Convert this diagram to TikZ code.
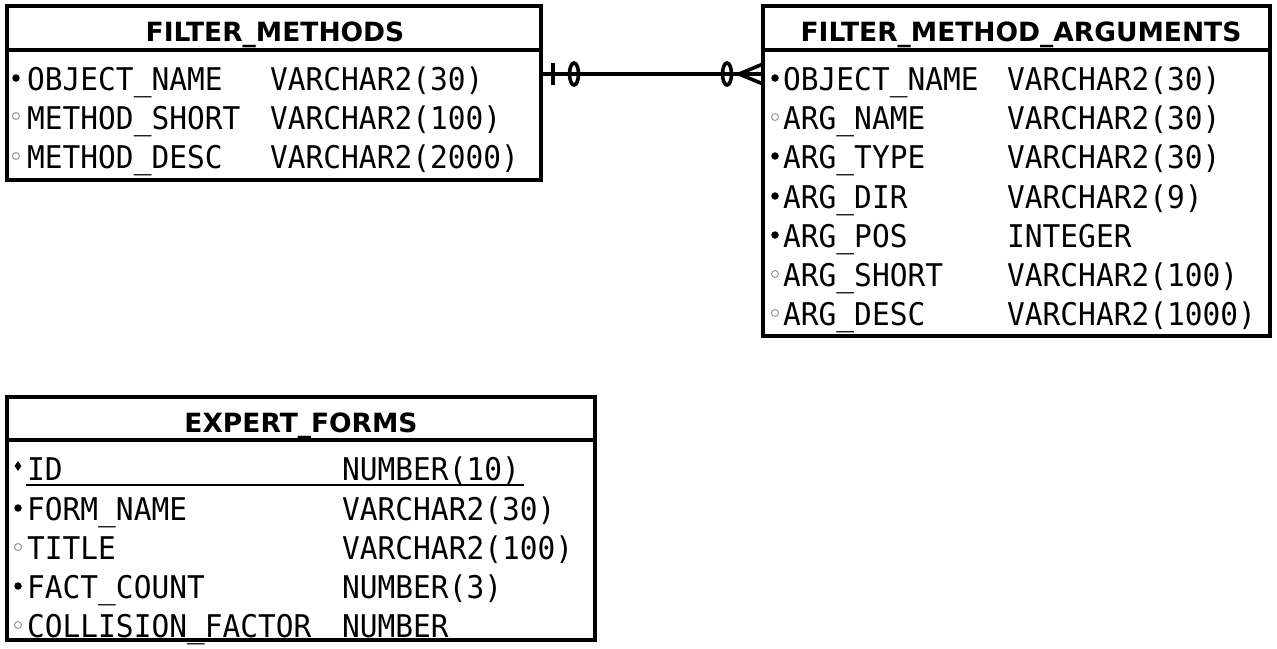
\documentclass[tikz,border=0pt]{standalone}
\usepackage{fontspec}
\setmainfont{DejaVu Sans}
\setmonofont{DejaVu Sans Mono}
\usetikzlibrary{shapes.geometric}
\newcommand{\tall}[1]{\scalebox{1}[1.06]{#1}}
\tikzset{
  tbl/.style={draw=black, line width=3.6pt},
  hdr/.style={font=\fontsize{26.5}{30}\selectfont\bfseries, anchor=base},
  col/.style={font=\fontsize{29.5}{32}\selectfont\ttfamily, anchor=base west, inner sep=0pt},
  req/.style={circle, fill=black, inner sep=0pt, minimum size=7.5pt},
  opt/.style={circle, draw=gray!80, line width=1pt, inner sep=0pt, minimum size=7pt},
  pk/.style={diamond, fill=black, inner sep=0pt, minimum width=7pt, minimum height=10pt},
  rel/.style={line width=3.6pt},
}
\begin{document}
\begin{tikzpicture}[x=1pt,y=-1pt]
\useasboundingbox[fill=white] (0,0) rectangle (1277,648);

% ---- FILTER_METHODS ----
\draw[tbl] (7,6) rectangle (541,180);
\draw[tbl] (7,50) -- (541,50);
\node[hdr] (fmh) at (275,41) {FILTER\_METHODS};
\node[req] (fm1b) at (16,78) {};
\node[opt] (fm2b) at (16,116) {};
\node[opt] (fm3b) at (16,156) {};
\node[col] (fm1a) at (27,90) {\tall{OBJECT\_NAME}};
\node[col] (fm2a) at (27,129) {\tall{METHOD\_SHORT}};
\node[col] (fm3a) at (27,168) {\tall{METHOD\_DESC}};
\node[col] (fm1t) at (270,90) {\tall{VARCHAR2(30)}};
\node[col] (fm2t) at (270,129) {\tall{VARCHAR2(100)}};
\node[col] (fm3t) at (270,168) {\tall{VARCHAR2(2000)}};

% ---- FILTER_METHOD_ARGUMENTS ----
\draw[tbl] (763,6) rectangle (1270,336);
\draw[tbl] (763,50) -- (1270,50);
\node[hdr] (fah) at (1021,41) {FILTER\_METHOD\_ARGUMENTS};
\foreach \i/\y/\k/\n/\t in {1/78/req/OBJECT\_NAME/VARCHAR2(30),
                            2/117/opt/ARG\_NAME/VARCHAR2(30),
                            3/156/req/ARG\_TYPE/VARCHAR2(30),
                            4/196/req/ARG\_DIR/VARCHAR2(9),
                            5/235/req/ARG\_POS/INTEGER,
                            6/274/opt/ARG\_SHORT/VARCHAR2(100),
                            7/313/opt/ARG\_DESC/VARCHAR2(1000)}{
  \node[\k] (fa\i b) at (775,\y) {};
  \node[col] (fa\i a) at (783,\y+12) {\tall{\n}};
  \node[col] (fa\i t) at (1007,\y+12) {\tall{\t}};
}

% ---- EXPERT_FORMS ----
\draw[tbl] (7,397) rectangle (595,640);
\draw[tbl] (7,440) -- (595,440);
\node[hdr] (efh) at (301,432) {EXPERT\_FORMS};
\node[pk] (ef1b) at (18,466) {};
\node[col] (ef1a) at (27,480) {\tall{ID}};
\node[col] (ef1t) at (342,480) {\tall{NUMBER(10)}};
\draw[line width=1.8pt] (26,485) -- (524,485);
\foreach \i/\y/\k/\n/\t in {2/508/req/FORM\_NAME/VARCHAR2(30),
                            3/547/opt/TITLE/VARCHAR2(100),
                            4/586/req/FACT\_COUNT/NUMBER(3),
                            5/625/opt/COLLISION\_FACTOR/NUMBER}{
  \node[\k] (ef\i b) at (18,\y) {};
  \node[col] (ef\i a) at (27,\y+12) {\tall{\n}};
  \node[col] (ef\i t) at (342,\y+12) {\tall{\t}};
}

% ---- relationship: one (optional) to many (optional) ----
\coordinate (ra) at (541,74);
\coordinate (rb) at (763,74);
\draw[rel] (ra) -- (rb);
\draw[rel] ([xshift=12pt]ra) ++(0,-11) -- ++(0,22);
\draw[rel] ([xshift=33pt]ra) ellipse (4.5 and 11);
\draw[rel] ([xshift=-36pt]rb) ellipse (4.5 and 11);
\draw[rel] ([yshift=-10pt]rb) -- ([xshift=-24pt]rb) -- ([yshift=10pt]rb);
\end{tikzpicture}
\end{document}
